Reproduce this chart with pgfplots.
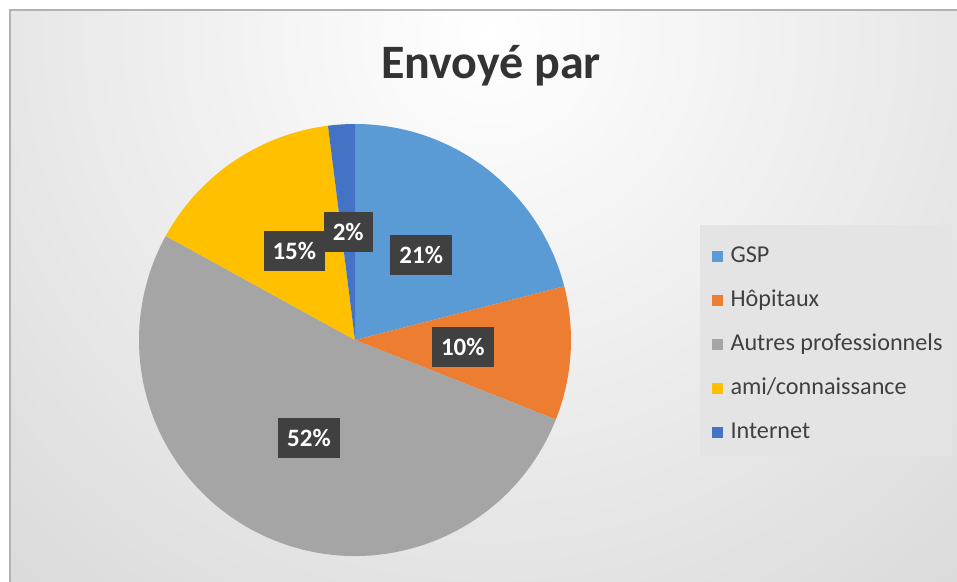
\documentclass[border=0pt]{standalone}
\usepackage{pgfplots}
\pgfplotsset{compat=1.18}
\usepackage{pgfplotstable}
\usepackage{fontspec}
\setmainfont{Carlito}
\definecolor{cGSP}{HTML}{5B9BD5}
\definecolor{cHop}{HTML}{ED7D31}
\definecolor{cAut}{HTML}{A5A5A5}
\definecolor{cAmi}{HTML}{FFC000}
\definecolor{cInt}{HTML}{4472C4}
\definecolor{lblbg}{HTML}{404040}
\definecolor{legbg}{HTML}{E4E4E4}
\definecolor{bgout}{HTML}{B6B6B6}
\pgfdeclareradialshading{bgshade}{\pgfpoint{0bp}{0bp}}{color(0bp)=(white); color(25bp)=(bgout); color(50bp)=(bgout)}

\pgfplotstableread{
idx value
0 21
1 10
2 52
3 15
4 2
}\piedata

\begin{document}
\begin{tikzpicture}[x=0.5pt,y=-0.5pt]
\pgfplotstablegetelem{0}{value}\of\piedata\edef\vA{\pgfplotsretval}%
\pgfplotstablegetelem{1}{value}\of\piedata\edef\vB{\pgfplotsretval}%
\pgfplotstablegetelem{2}{value}\of\piedata\edef\vC{\pgfplotsretval}%
\pgfplotstablegetelem{3}{value}\of\piedata\edef\vD{\pgfplotsretval}%
\pgfplotstablegetelem{4}{value}\of\piedata\edef\vE{\pgfplotsretval}%
\pgfmathsetmacro\aA{90}%
\pgfmathsetmacro\aB{\aA-3.6*\vA}%
\pgfmathsetmacro\aC{\aB-3.6*\vB}%
\pgfmathsetmacro\aD{\aC-3.6*\vC}%
\pgfmathsetmacro\aE{\aD-3.6*\vD}%
\pgfmathsetmacro\aF{\aE-3.6*\vE}%
\pgfmathsetmacro\mA{(\aA+\aB)/2}%
\pgfmathsetmacro\mB{(\aB+\aC)/2}%
\pgfmathsetmacro\mC{(\aC+\aD)/2}%
\pgfmathsetmacro\mD{(\aD+\aE)/2}%
\pgfmathsetmacro\mE{(\aE+\aF)/2}%
\useasboundingbox (0,0) rectangle (957,582);
% background
\begin{scope}
\clip (10,10) rectangle (957,582);
\shade[shading=bgshade] (490,35) circle (1450);
\end{scope}
\draw[black!30, line width=0.8pt] (957,10) -- (10,10) -- (10,582);
% title
\node[font=\fontsize{24}{28}\selectfont\bfseries, text=black!80] at (491,66) {Envoyé par};
% legend background
\fill[legbg] (700,225) rectangle (952,456);
\begin{axis}[
  at={(0pt,-291pt)}, anchor=south west,
  scale only axis, width=478.5pt, height=291pt,
  xmin=0, xmax=957, ymin=0, ymax=582, y dir=reverse,
  hide axis,
  legend cell align=left,
  legend image code/.code={\fill[#1] (0pt,-2.6pt) rectangle (5.2pt,2.6pt);},
  legend style={at={(axis description cs:0.737,0.587)}, anchor=north west,
    fill=none, draw=none, font=\fontsize{12.1}{14}\selectfont, text=black!75,
    row sep=10.6pt, column sep=1pt,
    nodes={inner ysep=0pt, inner xsep=2.8pt, text height=8.8pt, text depth=2.6pt}},
]
\fill[cGSP] (axis cs:355,340) -- ++(\aA:108pt) arc[start angle=\aA, end angle=\aB, radius=108pt] -- cycle;
\fill[cHop] (axis cs:355,340) -- ++(\aB:108pt) arc[start angle=\aB, end angle=\aC, radius=108pt] -- cycle;
\fill[cAut] (axis cs:355,340) -- ++(\aC:108pt) arc[start angle=\aC, end angle=\aD, radius=108pt] -- cycle;
\fill[cAmi] (axis cs:355,340) -- ++(\aD:108pt) arc[start angle=\aD, end angle=\aE, radius=108pt] -- cycle;
\fill[cInt] (axis cs:355,340) -- ++(\aE:108pt) arc[start angle=\aE, end angle=\aF, radius=108pt] -- cycle;
\tikzset{lbl/.style={fill=lblbg, text=white, font=\fontsize{12.5}{14}\selectfont\bfseries, inner xsep=4.5pt, inner ysep=0pt, minimum height=20pt}}
\path (axis cs:355,340) ++(\mA:54pt) node[lbl] {\vA\%};
\path (axis cs:355,340) ++(\mB:54pt) node[lbl] {\vB\%};
\path (axis cs:355,340) ++(\mC:54pt) node[lbl] {\vC\%};
\path (axis cs:355,340) ++(\mD:54pt) node[lbl] {\vD\%};
\path (axis cs:355,340) ++(\mE:54pt) node[lbl] {\vE\%};
\addlegendimage{cGSP}\addlegendentry{GSP}
\addlegendimage{cHop}\addlegendentry{Hôpitaux}
\addlegendimage{cAut}\addlegendentry{Autres professionnels}
\addlegendimage{cAmi}\addlegendentry{ami/connaissance}
\addlegendimage{cInt}\addlegendentry{Internet}
\end{axis}
\end{tikzpicture}
\end{document}
